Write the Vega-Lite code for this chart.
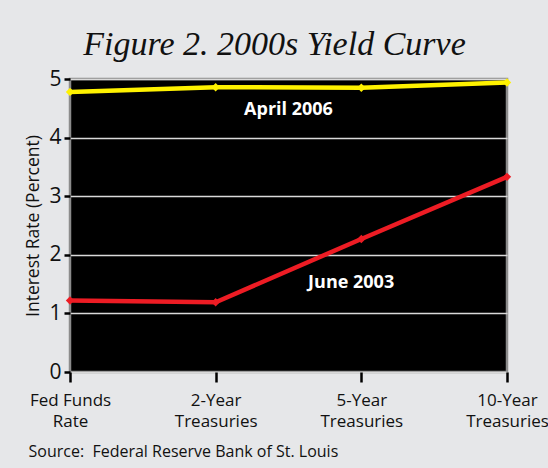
{
  "$schema": "https://vega.github.io/schema/vega-lite/v6.json",
  "autosize": {"type": "none"},
  "width": 437,
  "height": 293,
  "padding": {"left": 70, "top": 79, "right": 41, "bottom": 96},
  "background": "#e6e7e9",
  "title": {
    "text": "Figure 2. 2000s Yield Curve",
    "font": "Liberation Serif",
    "fontStyle": "italic",
    "fontWeight": "normal",
    "fontSize": 34,
    "color": "#111111",
    "anchor": "middle",
    "dx": -14,
    "offset": 6
  },
  "config": {
    "view": {"fill": "#000000", "stroke": "#8c8c8c", "strokeWidth": 2.5},
    "font": "Open Sans"
  },
  "datasets": {
    "rates": [
      {"series": "April 2006", "x": 0, "maturity": "Fed Funds Rate", "rate": 4.78},
      {"series": "April 2006", "x": 1, "maturity": "2-Year Treasuries", "rate": 4.86},
      {"series": "April 2006", "x": 2, "maturity": "5-Year Treasuries", "rate": 4.85},
      {"series": "April 2006", "x": 3, "maturity": "10-Year Treasuries", "rate": 4.94},
      {"series": "June 2003", "x": 0, "maturity": "Fed Funds Rate", "rate": 1.22},
      {"series": "June 2003", "x": 1, "maturity": "2-Year Treasuries", "rate": 1.19},
      {"series": "June 2003", "x": 2, "maturity": "5-Year Treasuries", "rate": 2.27},
      {"series": "June 2003", "x": 3, "maturity": "10-Year Treasuries", "rate": 3.33}
    ],
    "labels": [
      {"label": "April 2006", "x": 1.5, "rate": 4.47},
      {"label": "June 2003", "x": 1.93, "rate": 1.52}
    ]
  },
  "layer": [
    {
      "data": {"name": "rates"},
      "mark": {"type": "line", "strokeWidth": 4.5, "clip": false},
      "encoding": {
        "x": {
          "field": "x",
          "type": "quantitative",
          "scale": {"domain": [0, 3], "nice": false, "zero": false},
          "axis": {
            "values": [0, 1, 2, 3],
            "labelExpr": "datum.value == 0 ? ['Fed Funds', 'Rate'] : datum.value == 1 ? ['2-Year', 'Treasuries'] : datum.value == 2 ? ['5-Year', 'Treasuries'] : ['10-Year', 'Treasuries']",
            "grid": false,
            "domain": false,
            "ticks": true,
            "tickColor": "#000000",
            "tickWidth": 2.5,
            "tickSize": 10,
            "labelFont": "Open Sans",
            "labelFontSize": 17,
            "labelColor": "#111111",
            "labelLineHeight": 21,
            "labelPadding": 10,
            "labelOverlap": false,
            "labelFlush": false,
            "title": "Source:\u00a0 Federal Reserve Bank of St. Louis",
            "titleFont": "Open Sans",
            "titleFontSize": 16,
            "titleFontWeight": "normal",
            "titleColor": "#111111",
            "titleAnchor": "start",
            "titleAlign": "left",
            "titleX": -42,
            "titleY": 84,
            "titleBaseline": "alphabetic"
          }
        },
        "y": {
          "field": "rate",
          "type": "quantitative",
          "scale": {"domain": [0, 5], "nice": false},
          "axis": {
            "values": [0, 1, 2, 3, 4, 5],
            "format": "d",
            "grid": true,
            "gridColor": "#d9d9d9",
            "gridWidth": 1.5,
            "domain": false,
            "tickColor": "#000000",
            "tickWidth": 2.5,
            "tickSize": 6,
            "labelFont": "Open Sans",
            "labelFontSize": 21,
            "labelColor": "#111111",
            "labelPadding": 3,
            "labelFlush": false,
            "title": "Interest Rate (Percent)",
            "titleFont": "Open Sans",
            "titleFontSize": 17.5,
            "titleFontWeight": "normal",
            "titleColor": "#111111",
            "titlePadding": 6
          }
        },
        "color": {
          "field": "series",
          "type": "nominal",
          "scale": {"domain": ["April 2006", "June 2003"], "range": ["#fff200", "#ed1c24"]},
          "legend": null
        }
      }
    },
    {
      "data": {"name": "rates"},
      "mark": {"type": "point", "shape": "diamond", "filled": true, "size": 70, "opacity": 1, "clip": false},
      "encoding": {
        "x": {"field": "x", "type": "quantitative"},
        "y": {"field": "rate", "type": "quantitative"},
        "color": {"field": "series", "type": "nominal", "legend": null}
      }
    },
    {
      "data": {"name": "labels"},
      "mark": {"type": "text", "color": "#ffffff", "font": "Open Sans", "fontWeight": "bold", "fontSize": 18, "align": "center", "baseline": "middle"},
      "encoding": {
        "x": {"field": "x", "type": "quantitative"},
        "y": {"field": "rate", "type": "quantitative"},
        "text": {"field": "label"}
      }
    }
  ]
}
